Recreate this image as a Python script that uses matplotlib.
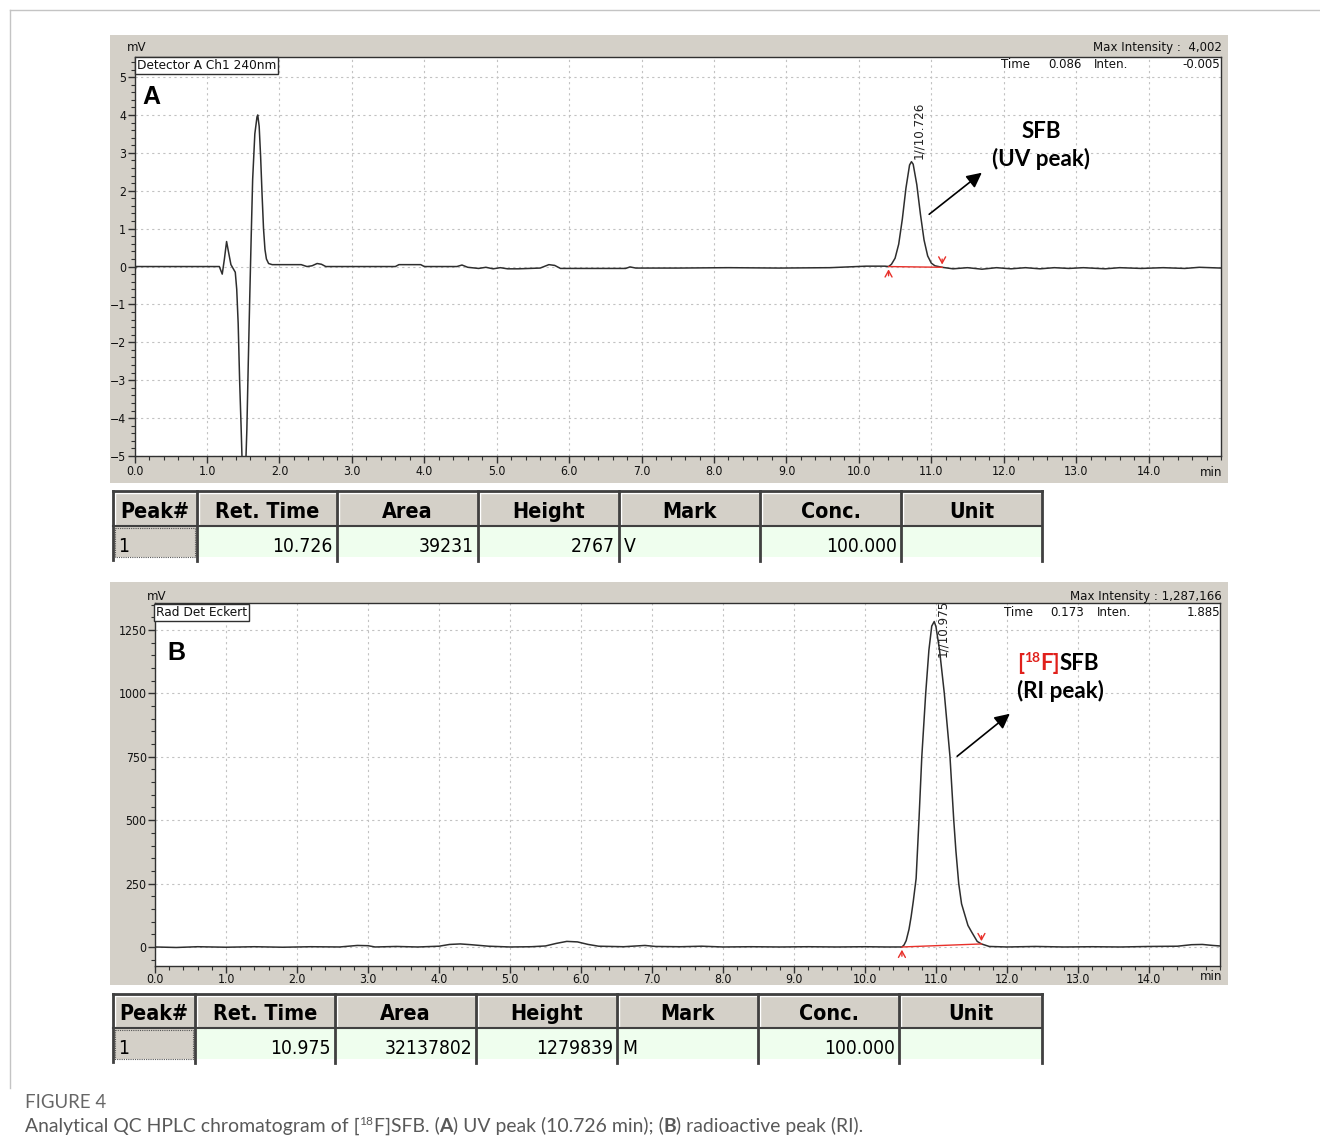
import glob
import os
import matplotlib
matplotlib.use("Agg")
import matplotlib.pyplot as plt
from matplotlib import font_manager
from matplotlib.font_manager import FontProperties
from matplotlib.patches import Rectangle
from matplotlib.ticker import MultipleLocator, FormatStrFormatter

# ---------------- data ----------------
uv_time = [0.00, 0.02, 0.50, 1.00, 1.17, 1.21, 1.24, 1.27, 1.30, 1.33, 1.36, 1.39,
           1.41, 1.43, 1.45, 1.47, 1.49, 1.51, 1.53, 1.55, 1.57, 1.59, 1.61, 1.63,
           1.66, 1.69, 1.70, 1.72, 1.74, 1.76, 1.78, 1.80, 1.82, 1.85, 1.90, 2.30,
           2.38, 2.45, 2.52, 2.58, 2.64, 3.60, 3.65, 3.95, 4.00, 4.45, 4.52, 4.60,
           4.75, 4.85, 4.95, 5.05, 5.15, 5.30, 5.45, 5.60, 5.72, 5.80, 5.88, 6.50,
           6.78, 6.84, 6.92, 7.50, 8.20, 8.90, 9.60, 10.10, 10.36, 10.41, 10.45,
           10.50, 10.55, 10.60, 10.65, 10.70, 10.726, 10.75, 10.80, 10.85, 10.90,
           10.95, 11.00, 11.05, 11.10, 11.15, 11.30, 11.50, 11.70, 11.90, 12.10,
           12.30, 12.50, 12.70, 12.90, 13.10, 13.40, 13.60, 13.90, 14.20, 14.50,
           14.70, 15.00]
uv_signal = [-0.15, 0.00, 0.00, 0.00, 0.00, -0.20, 0.20, 0.66, 0.35, 0.05, -0.05, -0.15,
             -0.60, -1.50, -3.00, -4.20, -5.50, -6.00, -5.50, -4.30, -2.50, -0.80, 0.80, 2.30,
             3.50, 3.95, 4.00, 3.70, 2.90, 1.90, 1.00, 0.45, 0.20, 0.08, 0.05, 0.05,
             0.00, 0.02, 0.08, 0.06, 0.00, 0.00, 0.05, 0.05, 0.00, 0.00, 0.04, -0.02,
             -0.05, -0.02, -0.06, -0.03, -0.06, -0.06, -0.05, -0.04, 0.05, 0.03, -0.05, -0.05,
             -0.05, -0.01, -0.04, -0.04, -0.03, -0.04, -0.03, 0.01, 0.01, 0.00, 0.06,
             0.22, 0.59, 1.25, 2.07, 2.68, 2.767, 2.70, 2.16, 1.38, 0.70,
             0.28, 0.09, 0.02, 0.00, -0.02, -0.06, -0.03, -0.07, -0.03, -0.06,
             -0.03, -0.06, -0.03, -0.05, -0.03, -0.06, -0.03, -0.05, -0.03, -0.05,
             -0.02, -0.04]

ri_time = [0.00, 0.30, 0.60, 1.00, 1.40, 1.80, 2.20, 2.60, 2.85, 3.00, 3.10, 3.40,
           3.70, 4.00, 4.15, 4.30, 4.45, 4.70, 5.00, 5.30, 5.50, 5.65, 5.80, 5.95,
           6.10, 6.25, 6.60, 6.90, 7.05, 7.40, 7.70, 8.00, 8.40, 8.80, 9.20, 9.60,
           10.00, 10.30, 10.52, 10.55, 10.58, 10.62, 10.65, 10.68, 10.72, 10.76, 10.80,
           10.855, 10.90, 10.94, 10.975, 11.00, 11.05, 11.117, 11.197, 11.25, 11.28, 11.32,
           11.36, 11.45, 11.50, 11.58, 11.64, 11.75, 12.00, 12.40, 12.80, 13.20, 13.60,
           14.00, 14.40, 14.60, 14.75, 14.90, 15.00]
ri_signal = [0, -2, 1, -1, 1, -1, 1, 0, 6, 5, 0, 2,
             0, 3, 10, 12, 9, 3, 0, 1, 4, 14, 22, 20,
             10, 3, 1, 6, 2, 1, 3, 0, 1, 0, 1, 0,
             1, 0, 0, 8, 25, 70, 120, 180, 270, 500, 750,
             1000, 1170, 1265, 1283, 1262, 1170, 1000, 750, 500, 380, 250,
             170, 85, 60, 22, 12, 2, 0, 2, 0, 1, 0,
             2, 3, 9, 10, 6, 4]

uv_bounds = [10.41, 11.15]
uv_bound_vals = [0.0, -0.02]
ri_bounds = [10.52, 11.64]
ri_bound_vals = [0.0, 12.0]

uv_peak_label = "1//10.726"
ri_peak_label = "1//10.975"
uv_peak_xy = (10.726, 2.767)
ri_peak_xy = (10.975, 1283.0)

x_ticks = [0, 1, 2, 3, 4, 5, 6, 7, 8, 9, 10, 11, 12, 13, 14]
uv_yticks = [-5, -4, -3, -2, -1, 0, 1, 2, 3, 4, 5]
ri_yticks = [0, 250, 500, 750, 1000, 1250]

table_headers = ["Peak#", "Ret. Time", "Area", "Height", "Mark", "Conc.", "Unit"]
uv_row = ["1", "10.726", "39231", "2767", "V", "100.000", ""]
ri_row = ["1", "10.975", "32137802", "1279839", "M", "100.000", ""]
row_align = ["left", "right", "right", "right", "left", "right", "left"]

# ---------------- figure setup ----------------
W, H = 1320, 1142
fig = plt.figure(figsize=(W / 100, H / 100), dpi=100)
fig.patch.set_facecolor("white")
R = fig.canvas.get_renderer()

names = {f.name for f in font_manager.fontManager.ttflist}
all_files = [f.fname for f in font_manager.fontManager.ttflist]
for pat in ("/usr/share/fonts/**/*.ttf", "/usr/share/fonts/**/*.otf",
            "/usr/local/share/fonts/**/*.ttf", os.path.expanduser("~/.fonts/**/*.ttf")):
    all_files += glob.glob(pat, recursive=True)


def find_font(patterns):
    for p in patterns:
        for f in all_files:
            if os.path.basename(f).lower() == p.lower():
                return f
    return None


NR = find_font(["LiberationSansNarrow-Regular.ttf", "ArialNarrow.ttf", "arialn.ttf",
                "DejaVuSansCondensed.ttf"])
NB = find_font(["LiberationSansNarrow-Bold.ttf", "ArialNarrow-Bold.ttf", "arialnb.ttf",
                "DejaVuSansCondensed-Bold.ttf"])
ARIAL = "Liberation Sans" if "Liberation Sans" in names else "DejaVu Sans"
ANN = "Lato" if "Lato" in names else "DejaVu Sans"
CAP = "Lato" if "Lato" in names else "DejaVu Sans"


def nprop(size, bold=False):
    path = NB if bold else NR
    if path:
        return FontProperties(fname=path, size=size)
    return FontProperties(family=ARIAL, weight="bold" if bold else "normal", size=size)


def fprop(family, size, bold=False):
    return FontProperties(family=family, weight="bold" if bold else "normal", size=size)


def tw(s, prop):
    t = fig.text(0, 0, "x" + s + "x", fontproperties=prop)
    w1 = t.get_window_extent(renderer=R).width
    t.remove()
    t = fig.text(0, 0, "xx", fontproperties=prop)
    w2 = t.get_window_extent(renderer=R).width
    t.remove()
    return w1 - w2


def fit_n(s, target, bold=False):
    return 20.0 * target / tw(s, nprop(20, bold))


def fit_f(s, target, family, bold=False):
    return 20.0 * target / tw(s, fprop(family, 20, bold))


tick_fs = fit_n("1250", 28)
small_fs = fit_n("Max Intensity : 1,287,166", 151)
det_fs = fit_n("Detector A Ch1 240nm", 139)
hdr_fs = fit_n("Ret. Time", 104, True)
dat_fs = fit_n("32137802", 88)
plab_fs = fit_n("1//10.726", 57)
letter_fs = fit_f("A", 18, ARIAL, True)
ann_fs = fit_f("(UV peak)", 98, ANN, True)
cap_fs = fit_f("Analytical QC HPLC chromatogram of [18F]SFB. (A) UV peak (10.726 min); (B) radioactive peak (RI).", 845, CAP)
fig4_fs = fit_f("FIGURE 4", 81, CAP)


def fx(x):
    return x / W


def fy(y):
    return 1 - y / H


bg = fig.add_axes([0, 0, 1, 1], zorder=0)
bg.set_xlim(0, W)
bg.set_ylim(H, 0)
bg.axis("off")
fg = fig.add_axes([0, 0, 1, 1], zorder=5)
fg.set_xlim(0, W)
fg.set_ylim(H, 0)
fg.axis("off")
fg.patch.set_alpha(0)

bg.plot([10, 10], [10, 1088], color="#c4c4c4", lw=1)
bg.plot([10, W], [10, 10], color="#c4c4c4", lw=1)

GRAY = "#d4d0c8"
bg.add_patch(Rectangle((110, 35), 1118, 448, facecolor=GRAY, edgecolor="none"))
bg.add_patch(Rectangle((110, 582), 1118, 403, facecolor=GRAY, edgecolor="none"))

TRACE = "#2e2e2e"
RED_MARK = "#e8302a"


def style_axes(ax, yticks, ymin_loc, xpad):
    ax.set_facecolor("white")
    ax.set_xlim(0, 15)
    ax.set_xticks(x_ticks)
    ax.xaxis.set_major_formatter(FormatStrFormatter("%.1f"))
    ax.xaxis.set_minor_locator(MultipleLocator(0.2))
    ax.set_yticks(yticks)
    ax.yaxis.set_minor_locator(MultipleLocator(ymin_loc))
    for s in ax.spines.values():
        s.set_color("#303030")
        s.set_linewidth(1.0)
    ax.tick_params(which="major", direction="out", length=5, width=1, color="#303030",
                   labelcolor="#111111", pad=1)
    ax.tick_params(which="minor", direction="out", length=3, width=0.8, color="#303030")
    ax.tick_params(axis="x", which="major", pad=xpad)
    for lab in ax.get_xticklabels() + ax.get_yticklabels():
        lab.set_fontproperties(nprop(tick_fs))
    ax.grid(True, which="major", color="#c2c2c2", linestyle=(0, (2, 3)), linewidth=0.8)
    ax.set_axisbelow(True)


def bound_marks(ax, bounds, vals):
    ax.plot(bounds, vals, color=RED_MARK, lw=1.0, zorder=4)
    ax.annotate("", xy=(bounds[0], vals[0]), xytext=(0, -12), textcoords="offset pixels",
                arrowprops=dict(arrowstyle="->,head_length=0.45,head_width=0.25",
                                color=RED_MARK, lw=1.0))
    ax.annotate("", xy=(bounds[1], vals[1]), xytext=(0, 11), textcoords="offset pixels",
                arrowprops=dict(arrowstyle="->,head_length=0.45,head_width=0.25",
                                color=RED_MARK, lw=1.0))


# ---------------- panel A ----------------
axA = fig.add_axes([fx(134.6), fy(456), (1221 - 134.6) / W, (456 - 57) / H], zorder=2)
axA.set_ylim(-5, 5.53)
style_axes(axA, uv_yticks, 0.2, 1.5)
axA.plot(uv_time, uv_signal, color=TRACE, lw=1.1, zorder=3)
bound_marks(axA, uv_bounds, uv_bound_vals)
axA.annotate(uv_peak_label, xy=uv_peak_xy, xytext=(7, 3), textcoords="offset pixels",
             rotation=90, ha="center", va="bottom", fontproperties=nprop(plab_fs), color="#222222")

# ---------------- panel B ----------------
axB = fig.add_axes([fx(155), fy(966), (1220 - 155) / W, (966 - 603) / H], zorder=2)
axB.set_ylim(-75, 1356)
style_axes(axB, ri_yticks, 50, 0.0)
axB.plot(ri_time, ri_signal, color=TRACE, lw=1.1, zorder=3)
bound_marks(axB, ri_bounds, ri_bound_vals)
axB.annotate(ri_peak_label, xy=ri_peak_xy, xytext=(8, -35), textcoords="offset pixels",
             rotation=90, ha="center", va="bottom", fontproperties=nprop(plab_fs), color="#222222")


def ntext(x, y, s, size, ha="left", bold=False, color="#111111", **kw):
    return fg.text(x, y, s, fontproperties=nprop(size, bold), ha=ha, va="baseline",
                   color=color, **kw)


def ftext(x, y, s, family, size, ha="left", bold=False, color="black", **kw):
    return fg.text(x, y, s, fontproperties=fprop(family, size, bold), ha=ha, va="baseline",
                   color=color, **kw)


BOX = dict(boxstyle="square,pad=0.12", facecolor="white", edgecolor="#303030", lw=1)

# A texts
ntext(137, 51, "mV", small_fs, ha="center")
ntext(1211, 476, "min", small_fs, ha="center")
ntext(137, 69, "Detector A Ch1 240nm", det_fs, bbox=BOX)
ftext(142, 104, "A", ARIAL, letter_fs, bold=True)
ntext(1222, 51, "Max Intensity :  4,002", small_fs, ha="right")
ntext(1001, 68, "Time", small_fs)
ntext(1048, 68, "0.086", small_fs)
ntext(1094, 68, "Inten.", small_fs)
ntext(1220, 68, "-0.005", small_fs, ha="right")
ftext(1041, 138, "SFB", ANN, ann_fs, ha="center", bold=True)
ftext(1041, 166, "(UV peak)", ANN, ann_fs, ha="center", bold=True)
fg.annotate("", xy=(984, 171), xytext=(927, 216),
            arrowprops=dict(arrowstyle="-|>,head_length=0.9,head_width=0.45", color="black", lw=1.2))

# B texts
ntext(157, 600, "mV", small_fs, ha="center")
ntext(1211, 980, "min", small_fs, ha="center")
ntext(156, 616, "Rad Det Eckert", det_fs, bbox=BOX)
ftext(167, 660, "B", ARIAL, letter_fs, bold=True)
ntext(1222, 600, "Max Intensity : 1,287,166", small_fs, ha="right")
ntext(1004, 616, "Time", small_fs)
ntext(1050, 616, "0.173", small_fs)
ntext(1097, 616, "Inten.", small_fs)
ntext(1220, 616, "1.885", small_fs, ha="right")


def runs(ax, x, y, parts, size, family, color, center=False):
    props = [fprop(family, size * o.get("scale", 1), o.get("bold", False)) for s, o in parts]
    widths = [tw(s, p) for (s, o), p in zip(parts, props)]
    cur = x - sum(widths) / 2 if center else x
    for (s, o), p, w in zip(parts, props, widths):
        ax.text(cur, y - o.get("dy", 0), s, fontproperties=p, color=o.get("color", color),
                ha="left", va="baseline")
        cur += w


RED = "#e0201b"
runs(fg, 1058, 670, [("[", dict(bold=True, color=RED)),
                     ("18", dict(bold=True, color=RED, scale=0.62, dy=8)),
                     ("F]", dict(bold=True, color=RED)),
                     ("SFB", dict(bold=True))], ann_fs, ANN, "black", center=True)
ftext(1060, 698, "(RI peak)", ANN, ann_fs, ha="center", bold=True)
fg.annotate("", xy=(1012, 712), xytext=(955, 758),
            arrowprops=dict(arrowstyle="-|>,head_length=0.9,head_width=0.45", color="black", lw=1.2))

# ---------------- tables ----------------
GREEN = "#effeee"
DARK = "#404040"


def draw_table(top, hdr_bot, row_bot, cols, row):
    left, right = cols[0], cols[-1]
    bg.add_patch(Rectangle((left, top), right - left, hdr_bot - top, facecolor=GRAY, edgecolor="none"))
    bg.add_patch(Rectangle((cols[1], hdr_bot), right - cols[1], row_bot - hdr_bot,
                           facecolor=GREEN, edgecolor="none"))
    bg.add_patch(Rectangle((cols[0], hdr_bot), cols[1] - cols[0], row_bot - hdr_bot,
                           facecolor=GRAY, edgecolor="none"))
    bg.add_patch(Rectangle((cols[0] + 2, hdr_bot + 2), cols[1] - cols[0] - 4, row_bot - hdr_bot - 2,
                           facecolor="none", edgecolor="#555555", lw=0.8, linestyle=(0, (1, 1))))
    for c0, c1 in zip(cols[:-1], cols[1:]):
        fg.plot([c0 + 2, c1 - 2], [top + 2, top + 2], color="white", lw=1)
        fg.plot([c0 + 2, c0 + 2], [top + 2, hdr_bot - 2], color="white", lw=1)
    fg.plot([left, right], [top, top], color=DARK, lw=2)
    fg.plot([left, right], [hdr_bot, hdr_bot], color=DARK, lw=1.5)
    fg.plot([left, left], [top, row_bot + 3], color=DARK, lw=2)
    for c in cols[1:]:
        fg.plot([c, c], [top, row_bot + 4], color=DARK, lw=2)
    hb = hdr_bot - 8
    db = row_bot - 5
    for i, (h, v) in enumerate(zip(table_headers, row)):
        c0, c1 = cols[i], cols[i + 1]
        fg.text((c0 + c1) / 2, hb, h, fontproperties=nprop(hdr_fs, True),
                ha="center", va="baseline", color="black")
        if v:
            if row_align[i] == "right":
                fg.text(c1 - 4, db, v, fontproperties=nprop(dat_fs), ha="right",
                        va="baseline", color="black")
            else:
                fg.text(c0 + 5, db, v, fontproperties=nprop(dat_fs), ha="left",
                        va="baseline", color="black")


draw_table(491, 526, 557, [113, 197, 337, 478, 619, 760, 901, 1042], uv_row)
draw_table(994, 1028, 1059, [113, 195, 335, 476, 617, 758, 899, 1042], ri_row)

# ---------------- caption ----------------
fg.text(25, 1108, "FIGURE 4", fontproperties=fprop(CAP, fig4_fs), color="#666666",
        ha="left", va="baseline")
runs(fg, 25, 1132, [("Analytical QC HPLC chromatogram of [", {}),
                    ("18", dict(scale=0.62, dy=7)),
                    ("F]SFB. (", {}),
                    ("A", dict(bold=True)),
                    (") UV peak (10.726 min); (", {}),
                    ("B", dict(bold=True)),
                    (") radioactive peak (RI).", {})], cap_fs, CAP, "#595959")

fig.savefig("out.png", dpi=100, facecolor="white")
